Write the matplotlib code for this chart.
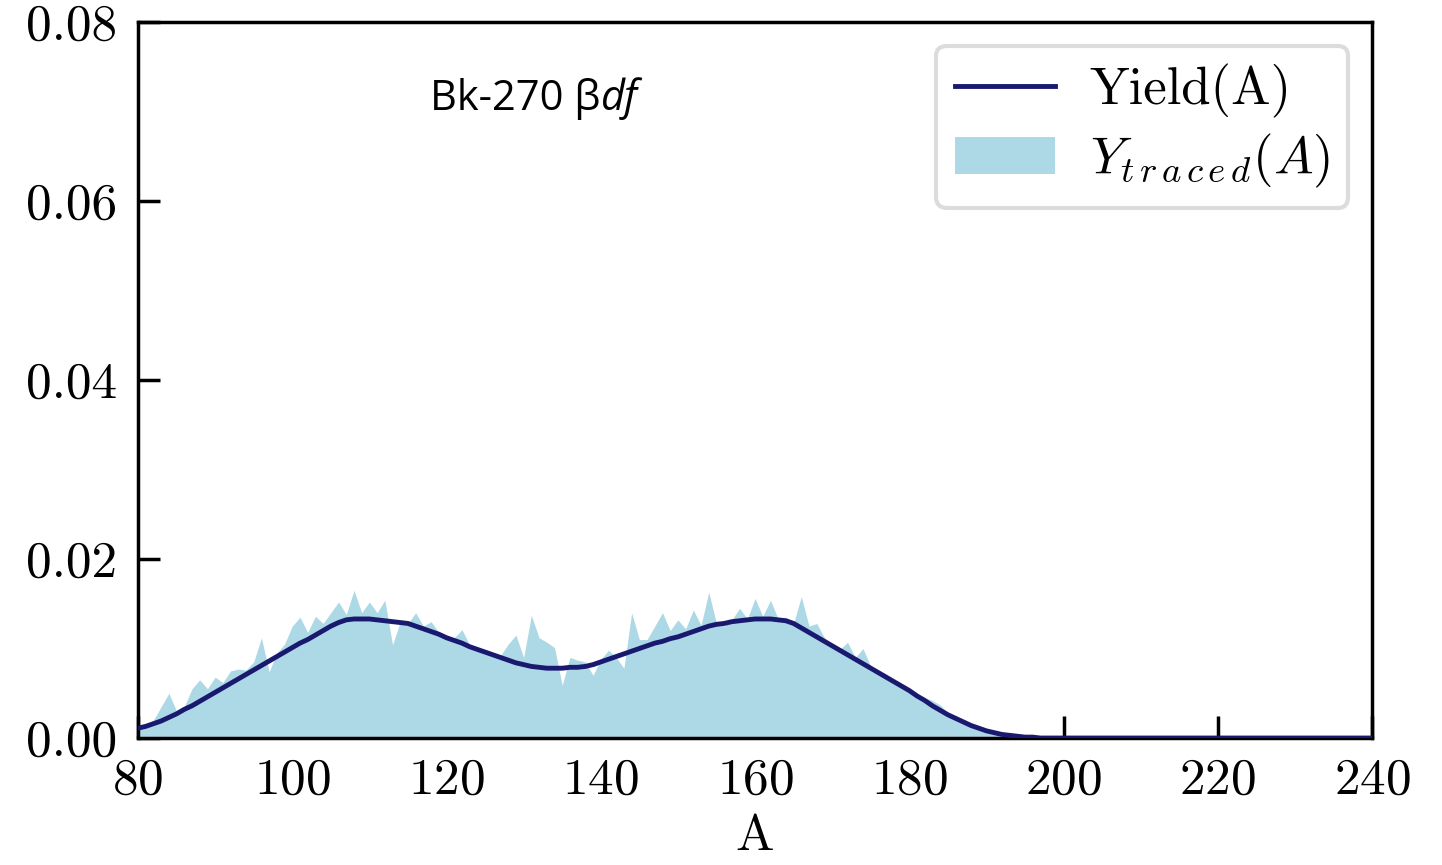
import matplotlib
matplotlib.use('Agg')
import matplotlib.pyplot as plt

plt.rcParams['font.family'] = 'serif'
plt.rcParams['font.serif'] = ['cmr10']
plt.rcParams['mathtext.fontset'] = 'cm'
plt.rcParams['axes.formatter.use_mathtext'] = True

# mass number A = 80 ... 240
mass = list(range(80, 241))

yield_a = [
    0.0011, 0.0013, 0.0016, 0.0019, 0.0023, 0.0027, 0.0032, 0.0036, 0.0041, 0.0046,  # 80-89
    0.0051, 0.0056, 0.0061, 0.0066, 0.0071, 0.0076, 0.0081, 0.0086, 0.0091, 0.0096,  # 90-99
    0.0101, 0.0106, 0.0110, 0.0115, 0.0120, 0.0125, 0.0129, 0.0132, 0.0133, 0.0133,  # 100-109
    0.0133, 0.0132, 0.0131, 0.0130, 0.0129, 0.0128, 0.0125, 0.0122, 0.0119, 0.0116,  # 110-119
    0.0112, 0.0109, 0.0106, 0.0102, 0.0099, 0.0096, 0.0093, 0.0090, 0.0087, 0.0084,  # 120-129
    0.0082, 0.0080, 0.0079, 0.0078, 0.0078, 0.0078, 0.0079, 0.0079, 0.0080, 0.0082,  # 130-139
    0.0085, 0.0088, 0.0091, 0.0094, 0.0097, 0.0100, 0.0103, 0.0106, 0.0108, 0.0111,  # 140-149
    0.0113, 0.0116, 0.0119, 0.0122, 0.0125, 0.0127, 0.0128, 0.0130, 0.0131, 0.0132,  # 150-159
    0.0133, 0.0133, 0.0133, 0.0132, 0.0131, 0.0128, 0.0123, 0.0118, 0.0113, 0.0108,  # 160-169
    0.0103, 0.0098, 0.0093, 0.0088, 0.0083, 0.0078, 0.0073, 0.0068, 0.0063, 0.0058,  # 170-179
    0.0053, 0.0047, 0.0042, 0.0036, 0.0031, 0.0026, 0.0022, 0.0018, 0.0014, 0.0011,  # 180-189
    0.0008, 0.0006, 0.0004, 0.0003, 0.0002, 0.0001, 0.0001, 0.0, 0.0, 0.0,            # 190-199
    0.0, 0.0, 0.0, 0.0, 0.0, 0.0, 0.0, 0.0, 0.0, 0.0,                                # 200-209
    0.0, 0.0, 0.0, 0.0, 0.0, 0.0, 0.0, 0.0, 0.0, 0.0,                                # 210-219
    0.0, 0.0, 0.0, 0.0, 0.0, 0.0, 0.0, 0.0, 0.0, 0.0,                                # 220-229
    0.0, 0.0, 0.0, 0.0, 0.0, 0.0, 0.0, 0.0, 0.0, 0.0,                                # 230-239
    0.0,                                                                             # 240
]

y_traced = [
    0.0011, 0.0014, 0.0020, 0.0035, 0.0050, 0.0030, 0.0035, 0.0055, 0.0065, 0.0055,  # 80-89
    0.0068, 0.0062, 0.0075, 0.0077, 0.0076, 0.0085, 0.0112, 0.0074, 0.0095, 0.0105,  # 90-99
    0.0125, 0.0135, 0.0118, 0.0136, 0.0128, 0.0140, 0.0152, 0.0138, 0.0165, 0.0140,  # 100-109
    0.0152, 0.0140, 0.0154, 0.0104, 0.0130, 0.0128, 0.0140, 0.0125, 0.0130, 0.0118,  # 110-119
    0.0114, 0.0112, 0.0121, 0.0104, 0.0100, 0.0096, 0.0093, 0.0092, 0.0105, 0.0115,  # 120-129
    0.0090, 0.0137, 0.0112, 0.0107, 0.0101, 0.0059, 0.0090, 0.0087, 0.0085, 0.0070,  # 130-139
    0.0088, 0.0098, 0.0090, 0.0078, 0.0140, 0.0110, 0.0110, 0.0125, 0.0140, 0.0120,  # 140-149
    0.0132, 0.0122, 0.0143, 0.0126, 0.0163, 0.0128, 0.0125, 0.0132, 0.0145, 0.0133,  # 150-159
    0.0156, 0.0136, 0.0154, 0.0133, 0.0135, 0.0128, 0.0158, 0.0125, 0.0128, 0.0112,  # 160-169
    0.0104, 0.0099, 0.0107, 0.0090, 0.0100, 0.0080, 0.0073, 0.0068, 0.0063, 0.0058,  # 170-179
    0.0053, 0.0048, 0.0045, 0.0042, 0.0037, 0.0028, 0.0022, 0.0018, 0.0014, 0.0011,  # 180-189
    0.0008, 0.0006, 0.0004, 0.0003, 0.0002, 0.0001, 0.0001, 0.0, 0.0, 0.0,            # 190-199
    0.0, 0.0, 0.0, 0.0, 0.0, 0.0, 0.0, 0.0, 0.0, 0.0,                                # 200-209
    0.0, 0.0, 0.0, 0.0, 0.0, 0.0, 0.0, 0.0, 0.0, 0.0,                                # 210-219
    0.0, 0.0, 0.0, 0.0, 0.0, 0.0, 0.0, 0.0, 0.0, 0.0,                                # 220-229
    0.0, 0.0, 0.0, 0.0, 0.0, 0.0, 0.0, 0.0, 0.0, 0.0,                                # 230-239
    0.0,                                                                             # 240
]

x_ticks = [80, 100, 120, 140, 160, 180, 200, 220, 240]
y_ticks = [0.00, 0.02, 0.04, 0.06, 0.08]
y_tick_labels = ['0.00', '0.02', '0.04', '0.06', '0.08']

fig = plt.figure(figsize=(14.42, 8.65), dpi=100)
ax = fig.add_axes([0.0957, 0.1468, 0.8558, 0.8278])

ax.plot(mass, yield_a, color='midnightblue', linewidth=3.5, label='Yield(A)', zorder=3)
# thin spaces widen the subscript like LaTeX's small-size cmmi
ax.fill_between(mass, y_traced, 0, color='lightblue', linewidth=0,
                label=r'$Y_{t\,r\,a\,c\,e\,d}(A)$', zorder=2)

ax.set_xlim(80, 240)
ax.set_ylim(0, 0.08)
ax.set_xticks(x_ticks)
ax.set_yticks(y_ticks)
ax.set_yticklabels(y_tick_labels)
ax.tick_params(direction='in', length=16, width=2.5, labelsize=37)
ax.tick_params(axis='y', pad=15)
ax.tick_params(axis='x', pad=14)
for sp in ax.spines.values():
    sp.set_linewidth(2.5)

ax.set_xlabel('A', fontsize=37, labelpad=8)

leg = ax.legend(loc='upper right', fontsize=38, frameon=True, fancybox=True,
                borderpad=0.35, handlelength=1.9, handletextpad=0.65,
                labelspacing=0.25, borderaxespad=0.45, bbox_to_anchor=(1, 1))
leg.get_frame().set_edgecolor('#d4d4d4')
leg.get_frame().set_linewidth(3)

t = ax.text(0.237, 0.877, 'Bk-270 β', transform=ax.transAxes, fontsize=30,
            family='Open Sans', va='baseline', ha='left')
ax.annotate('df', xy=(1, 0), xycoords=t, fontsize=30, family='Open Sans',
            style='italic', va='bottom', ha='left')

fig.savefig('out.png', dpi=100)
